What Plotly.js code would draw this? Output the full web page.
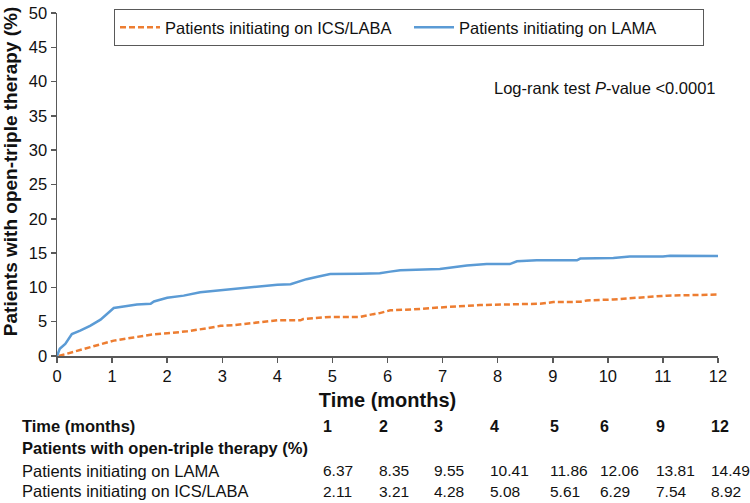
<!DOCTYPE html>
<html>
<head>
<meta charset="utf-8">
<script src="https://cdn.plot.ly/plotly-3.0.1.min.js"></script>
<style>html,body{margin:0;padding:0;background:#fff;}#chart{width:750px;height:503px;}</style>
</head>
<body>
<div id="chart"></div>
<script>
// ---- Data ----
const lamaMonths = [0, 0.05, 0.15, 0.27, 0.42, 0.6, 0.79, 0.94, 1.03, 1.21, 1.45, 1.7, 1.76, 2.0, 2.3, 2.6, 2.97, 3.2, 3.5, 4.0, 4.24, 4.42, 4.53, 4.75, 4.96, 5.5, 5.86, 6.05, 6.23, 6.95, 7.44, 7.8, 8.22, 8.35, 8.71, 9.44, 9.5, 10.1, 10.4, 11.0, 11.13, 12.0];
const lamaPct    = [0, 1.05, 1.76, 3.2, 3.7, 4.4, 5.3, 6.3, 7.0, 7.2, 7.5, 7.6, 7.95, 8.5, 8.8, 9.3, 9.6, 9.85, 10.1, 10.4, 10.45, 10.9, 11.2, 11.6, 11.95, 12.0, 12.05, 12.3, 12.5, 12.7, 13.2, 13.4, 13.4, 13.8, 13.95, 13.95, 14.2, 14.3, 14.5, 14.5, 14.6, 14.57];

const icsMonths = [0.03, 0.18, 0.48, 0.79, 1.03, 1.39, 1.7, 2.0, 2.36, 2.73, 2.97, 3.2, 3.58, 4.0, 4.42, 4.47, 4.96, 5.5, 5.74, 5.86, 6.05, 6.47, 7.07, 7.68, 8.77, 9.01, 9.5, 9.62, 10.1, 10.7, 11.07, 11.98];
const icsPct    = [0, 0.33, 1.05, 1.67, 2.24, 2.7, 3.1, 3.3, 3.6, 4.05, 4.4, 4.5, 4.86, 5.2, 5.2, 5.38, 5.7, 5.7, 6.1, 6.25, 6.66, 6.8, 7.14, 7.43, 7.62, 7.86, 7.9, 8.1, 8.24, 8.62, 8.8, 8.95];

const seriesNames = ["Patients initiating on ICS/LABA", "Patients initiating on LAMA"];

const tableMonths = ["1", "2", "3", "4", "5", "6", "9", "12"];
const tableLama   = ["6.37", "8.35", "9.55", "10.41", "11.86", "12.06", "13.81", "14.49"];
const tableIcs    = ["2.11", "3.21", "4.28", "5.08", "5.61", "6.29", "7.54", "8.92"];
const tableRowLabels = ["Time (months)", "Patients with open-triple therapy (%)", "Patients initiating on LAMA", "Patients initiating on ICS/LABA"];

// ---- Layout helpers (pixel geometry) ----
const W = 750, H = 503;
const M = {l: 57, r: 32, t: 9, b: 147};
const plotW = W - M.l - M.r, plotH = H - M.t - M.b;
const px2x = p => (p - M.l) / plotW;
const py2y = p => (H - M.b - p) / plotH;

const FONT = "Liberation Sans, Arial, Helvetica, sans-serif";
const TXT = "#111111";
const AX = "#595959";

const traces = [
  {
    x: icsMonths, y: icsPct, name: seriesNames[0], type: "scatter", mode: "lines",
    line: {color: "#ED7D31", width: 2.5, dash: "6px,3px"}
  },
  {
    x: lamaMonths, y: lamaPct, name: seriesNames[1], type: "scatter", mode: "lines",
    line: {color: "#5B9BD5", width: 2.5}
  }
];

const colLeftPx = [322, 378, 433, 489, 549, 599, 655, 710];
const rowPy = [427, 449, 472, 493];

const annotations = [];
function ann(text, xp, yp, opts) {
  annotations.push(Object.assign({
    text: text, xref: "paper", yref: "paper", x: px2x(xp), y: py2y(yp),
    xanchor: "left", yanchor: "middle", showarrow: false,
    font: {family: FONT, size: 16.5, color: TXT}
  }, opts || {}));
}
const numFont = {family: FONT, size: 15.5, color: TXT};
// Table row labels
ann("<b>" + tableRowLabels[0] + "</b>", 20, rowPy[0]);
ann("<b>" + tableRowLabels[1] + "</b>", 20, rowPy[1]);
ann(tableRowLabels[2], 20, rowPy[2]);
ann(tableRowLabels[3], 20, rowPy[3]);
tableMonths.forEach((m, i) => {
  ann("<b>" + m + "</b>", colLeftPx[i] - 1, rowPy[0], {font: {family: FONT, size: 16, color: TXT}});
  ann(tableLama[i], colLeftPx[i] - 1, rowPy[2], {font: numFont});
  ann(tableIcs[i], colLeftPx[i] - 1, rowPy[3], {font: numFont});
});
// Log-rank annotation
ann("Log-rank test <i>P</i>-value &lt;0.0001", 718, 85, {xanchor: "right"});
// Y axis title (placed to match the reference)
ann("<b>Patients with open-triple therapy (%)</b>", 10, 170, {
  xanchor: "center", textangle: -90, font: {family: FONT, size: 19, color: TXT}
});

const layout = {
  width: W, height: H,
  margin: M,
  paper_bgcolor: "#ffffff", plot_bgcolor: "#ffffff",
  font: {family: FONT, size: 16.5, color: TXT},
  showlegend: true,
  legend: {
    orientation: "h", x: px2x(114), xanchor: "left", y: py2y(5), yanchor: "top",
    bordercolor: AX, borderwidth: 1, bgcolor: "#ffffff",
    font: {family: FONT, size: 16.5, color: TXT},
    traceorder: "normal", itemwidth: 40, entrywidth: 239
  },
  xaxis: {
    range: [0, 12], dtick: 1, tick0: 0, showgrid: false, zeroline: false,
    showline: true, linecolor: AX, linewidth: 1.5,
    ticks: "outside", ticklen: 5, tickcolor: AX, tickwidth: 1.5,
    tickfont: {family: FONT, size: 16.5, color: TXT},
    title: {text: "<b>Time (months)</b>", font: {family: FONT, size: 20, color: TXT}, standoff: 8}
  },
  yaxis: {
    range: [0, 50], tickvals: [0, 5, 10, 15, 20, 25, 30, 35, 40, 45, 50],
    ticklabeloverflow: "allow",
    showgrid: false, zeroline: false,
    showline: true, linecolor: AX, linewidth: 1.5,
    ticks: "outside", ticklen: 5, tickcolor: AX, tickwidth: 1.5,
    tickfont: {family: FONT, size: 16.5, color: TXT}
  },
  annotations: annotations
};

Plotly.newPlot("chart", traces, layout, {displayModeBar: false, staticPlot: true});
</script>
</body>
</html>
